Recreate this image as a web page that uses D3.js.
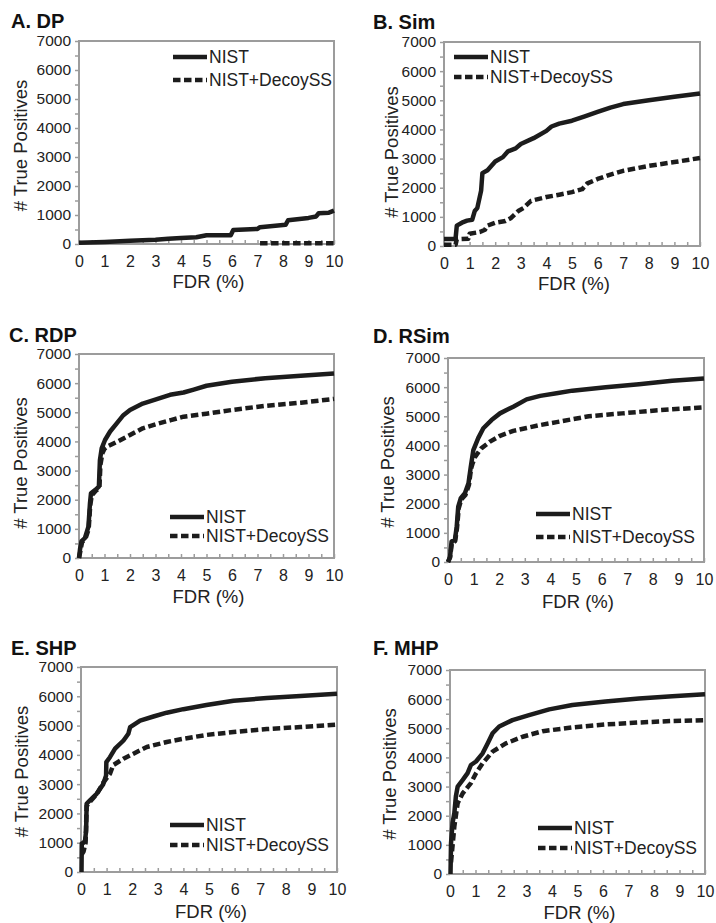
<!DOCTYPE html>
<html>
<head>
<meta charset="utf-8">
<script src="https://cdn.jsdelivr.net/npm/d3@7"></script>
<style>
  body { margin: 0; background: #fff; }
  svg { font-family: Arial, 'Liberation Sans', sans-serif; }
  .frame { fill: none; stroke: #9c9c9c; stroke-width: 2; }
  .axis .tick line { stroke: #9c9c9c; stroke-width: 1.5; }
  .axis text { fill: #222; }
  .axis--y text { font-size: 15.5px; }
  .axis--x text { font-size: 16px; }
  .title { font-size: 20px; font-weight: bold; fill: #111; }
  .label { font-size: 18.5px; fill: #222; }
  .legend text { font-size: 17.5px; fill: #222; }
  .series { fill: none; stroke: #1c1c1c; stroke-width: 4.5; stroke-linejoin: round; }
  .series--decoy { stroke-dasharray: 7.5 3.5; }
</style>
</head>
<body>
<script>
/* global d3 */

const panelTitles = ['A. DP', 'B. Sim', 'C. RDP', 'D. RSim', 'E. SHP', 'F. MHP'];
const seriesNames = ['NIST', 'NIST+DecoySS'];
const fdrTicks = d3.range(0, 10.01, 0.5);
const tpTicks = d3.range(0, 7001, 500);

// [FDR (%), # true positives]
const dpNist = [[0, 40], [1, 70], [2, 110], [3, 150], [3.5, 180], [4, 210], [4.6, 230], [5, 300], [5.95, 300], [6.05, 480], [7, 520], [7.1, 580], [8.1, 660], [8.2, 820], [9, 900], [9.3, 950], [9.4, 1060], [9.8, 1080], [10, 1150]];
const dpDecoy = [[7.1, 30], [10, 30]];

const simNist = [[0, 240], [0.45, 240], [0.5, 700], [0.7, 800], [0.9, 870], [1.1, 900], [1.2, 1200], [1.3, 1300], [1.45, 1900], [1.5, 2500], [1.7, 2600], [2, 2900], [2.3, 3050], [2.5, 3250], [2.8, 3350], [3, 3500], [3.5, 3700], [4, 3950], [4.2, 4100], [4.5, 4200], [5, 4300], [5.5, 4450], [6, 4600], [6.5, 4750], [7, 4870], [8, 5000], [9, 5120], [10, 5230]];
const simDecoy = [[0, 40], [0.45, 40], [0.5, 230], [0.95, 250], [1, 420], [1.4, 480], [1.6, 560], [1.7, 700], [2, 800], [2.4, 860], [2.6, 950], [2.9, 1200], [3.1, 1300], [3.4, 1550], [4, 1680], [4.5, 1760], [5, 1850], [5.4, 1950], [5.6, 2150], [6, 2300], [6.5, 2450], [7, 2580], [8, 2750], [9, 2880], [10, 3020]];

const rdpNist = [[0, 0], [0.04, 300], [0.1, 580], [0.23, 680], [0.37, 1075], [0.43, 1875], [0.47, 2220], [0.63, 2330], [0.78, 2450], [0.82, 3350], [0.89, 3760], [1.02, 4050], [1.22, 4340], [1.48, 4620], [1.74, 4900], [2, 5080], [2.5, 5300], [3.05, 5450], [3.57, 5600], [4.1, 5680], [4.5, 5780], [5, 5910], [6, 6050], [7.3, 6170], [8.7, 6250], [10, 6330]];
const rdpDecoy = [[0, 0], [0.05, 220], [0.12, 550], [0.25, 650], [0.38, 1000], [0.44, 1800], [0.5, 2150], [0.65, 2300], [0.8, 2400], [0.84, 3200], [0.92, 3600], [1, 3750], [1.1, 3820], [1.5, 3990], [2, 4220], [2.5, 4450], [3.05, 4600], [3.6, 4730], [4.1, 4850], [5, 4950], [6, 5080], [7.3, 5220], [8.7, 5330], [10, 5460]];

const rsimNist = [[0, 0], [0.08, 180], [0.14, 700], [0.27, 760], [0.34, 1210], [0.4, 1900], [0.5, 2190], [0.66, 2360], [0.8, 2700], [0.89, 3270], [0.99, 3840], [1.18, 4250], [1.38, 4590], [1.7, 4870], [2.03, 5100], [2.55, 5330], [3.07, 5580], [3.6, 5700], [4.24, 5790], [4.86, 5880], [6.16, 6000], [7.46, 6100], [8.76, 6220], [10, 6300]];
const rsimDecoy = [[0, 0], [0.08, 150], [0.15, 650], [0.28, 720], [0.35, 1150], [0.42, 1850], [0.52, 2150], [0.68, 2300], [0.82, 2650], [0.9, 3200], [0.95, 3350], [1.05, 3600], [1.3, 3900], [1.64, 4130], [2.03, 4330], [2.55, 4500], [3.07, 4600], [3.6, 4700], [4.24, 4800], [4.86, 4900], [5.5, 5000], [6.8, 5100], [8.1, 5200], [10, 5310]];

const shpNist = [[0.02, 0], [0.03, 970], [0.1, 1000], [0.16, 1080], [0.2, 1420], [0.22, 2330], [0.35, 2450], [0.61, 2670], [0.87, 3000], [0.98, 3300], [0.99, 3750], [1.13, 3920], [1.33, 4210], [1.66, 4490], [1.85, 4720], [1.92, 4950], [2.31, 5170], [2.83, 5310], [3.35, 5440], [4, 5560], [4.9, 5700], [5.96, 5850], [7.26, 5940], [8.57, 6010], [10, 6090]];
const shpDecoy = [[0.03, 600], [0.1, 700], [0.18, 1000], [0.22, 2250], [0.35, 2400], [0.61, 2650], [0.87, 3050], [1.13, 3350], [1.26, 3650], [1.66, 3870], [2.05, 4040], [2.57, 4270], [3.35, 4440], [4, 4550], [4.9, 4680], [5.96, 4780], [7.26, 4880], [8.57, 4950], [10, 5030]];

const mhpNist = [[0.02, 0], [0.04, 1060], [0.1, 1750], [0.17, 2090], [0.23, 2660], [0.3, 3000], [0.5, 3230], [0.69, 3460], [0.82, 3740], [1.02, 3860], [1.28, 4140], [1.48, 4490], [1.67, 4830], [1.93, 5060], [2.45, 5280], [3.1, 5450], [3.89, 5650], [4.8, 5800], [6.1, 5920], [7.41, 6020], [8.72, 6100], [10, 6170]];
const mhpDecoy = [[0.04, 400], [0.17, 1630], [0.3, 2430], [0.5, 2770], [0.82, 3120], [1.02, 3460], [1.28, 3800], [1.67, 4200], [2.19, 4480], [2.85, 4710], [3.63, 4900], [4.8, 5030], [6.1, 5130], [7.41, 5200], [8.72, 5250], [10, 5280]];

const panelSeries = [
  [dpNist, dpDecoy],
  [simNist, simDecoy],
  [rdpNist, rdpDecoy],
  [rsimNist, rsimDecoy],
  [shpNist, shpDecoy],
  [mhpNist, mhpDecoy],
];

// plot boxes, title / legend spots and label offsets for each panel (page px)
const layout = [
  { left: 79, top: 41, w: 255, h: 203, tx: 11, ty: 28, lx: 173, ly: 57, lgap: 23, xl: 44, yl: 52, ym: 3 },
  { left: 444, top: 42, w: 256, h: 204, tx: 373, ty: 29, lx: 454, ly: 57, lgap: 20, xl: 44, yl: 46, ym: 8 },
  { left: 79, top: 354, w: 255, h: 204, tx: 9, ty: 342, lx: 170, ly: 517, lgap: 19, xl: 45, yl: 52, ym: 7 },
  { left: 448, top: 358, w: 256, h: 204, tx: 373, ty: 343, lx: 536, ly: 514, lgap: 23, xl: 46, yl: 54, ym: 2 },
  { left: 81, top: 667, w: 256, h: 205, tx: 11, ty: 655, lx: 170, ly: 825, lgap: 20, xl: 46, yl: 53, ym: 2 },
  { left: 450, top: 670, w: 255, h: 204, tx: 373, ty: 655, lx: 538, ly: 828, lgap: 20, xl: 45, yl: 54, ym: 2 },
];

const $svg = d3.select('body').append('svg')
  .attr('width', 716)
  .attr('height', 923);

panelTitles.forEach((title, i) => {
  const L = layout[i];
  const scaleX = d3.scaleLinear().domain([0, 10]).range([0, L.w]);
  const scaleY = d3.scaleLinear().domain([0, 7000]).range([L.h, 0]);
  const generateLine = d3.line()
    .x(d => scaleX(d[0]))
    .y(d => scaleY(d[1]));

  const $g = $svg.append('g')
    .attr('transform', `translate(${L.left}, ${L.top})`);

  // axes: y ticks point out, x ticks point in
  $g.append('g')
    .attr('class', 'axis axis--y')
    .call(d3.axisLeft(scaleY)
      .tickValues(tpTicks)
      .tickSize(4)
      .tickPadding(4)
      .tickFormat(d => (d % 1000 ? '' : d)));

  $g.append('g')
    .attr('class', 'axis axis--x')
    .attr('transform', `translate(0, ${L.h})`)
    .call(d3.axisBottom(scaleX)
      .tickValues(fdrTicks)
      .tickSize(-4)
      .tickPadding(12)
      .tickFormat(d => (Number.isInteger(d) ? d : '')));

  $g.selectAll('.domain').remove();

  $g.append('rect')
    .attr('class', 'frame')
    .attr('width', L.w)
    .attr('height', L.h);

  $g.selectAll('.series')
    .data(panelSeries[i])
    .join('path')
    .attr('class', (d, j) => `series ${j ? 'series--decoy' : 'series--nist'}`)
    .attr('d', generateLine);

  // legend
  const $legend = $svg.append('g')
    .attr('class', 'legend')
    .attr('transform', `translate(${L.lx}, ${L.ly})`);

  const $item = $legend.selectAll('.item')
    .data(seriesNames)
    .join('g')
    .attr('class', 'item')
    .attr('transform', (d, j) => `translate(0, ${j * L.lgap})`);

  $item.append('line')
    .attr('class', (d, j) => `series ${j ? 'series--decoy' : ''}`)
    .attr('x1', 0)
    .attr('x2', 34);

  $item.append('text')
    .attr('x', 36)
    .attr('dy', '0.36em')
    .text(d => d);

  // titles and axis labels
  $svg.append('text')
    .attr('class', 'title')
    .attr('x', L.tx)
    .attr('y', L.ty)
    .text(title);

  $g.append('text')
    .attr('class', 'label')
    .attr('text-anchor', 'middle')
    .attr('x', L.w / 2 + 2)
    .attr('y', L.h + L.xl)
    .text('FDR (%)');

  $g.append('text')
    .attr('class', 'label')
    .attr('text-anchor', 'middle')
    .attr('transform', `translate(${-L.yl}, ${L.h / 2 + L.ym}) rotate(-90)`)
    .text('# True Positives');
});
</script>
</body>
</html>
